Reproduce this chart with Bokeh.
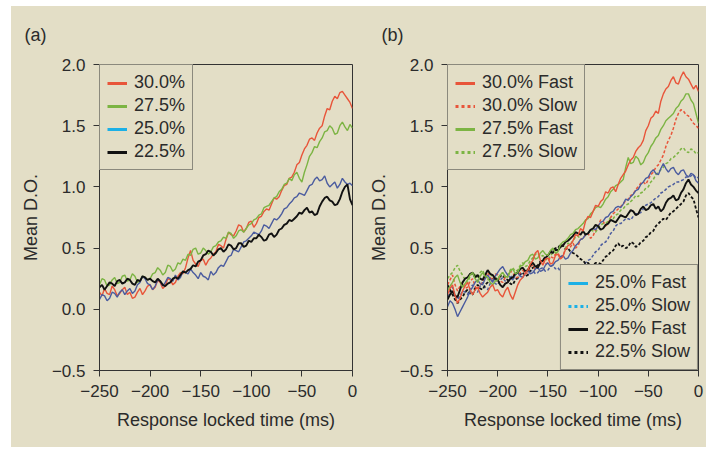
from bokeh.plotting import figure
from bokeh.layouts import row
from bokeh.models import Legend, LegendItem, FixedTicker, Range1d
from bokeh.embed import file_html
from bokeh.resources import INLINE

# ---------------- data ----------------
time_ms = [-250, -247.5, -245, -242.5, -240, -237.5, -235, -232.5, -230, -227.5,
           -225, -222.5, -220, -217.5, -215, -212.5, -210, -207.5, -205, -202.5,
           -200, -197.5, -195, -192.5, -190, -187.5, -185, -182.5, -180, -177.5,
           -175, -172.5, -170, -167.5, -165, -162.5, -160, -157.5, -155, -152.5,
           -150, -147.5, -145, -142.5, -140, -137.5, -135, -132.5, -130, -127.5,
           -125, -122.5, -120, -117.5, -115, -112.5, -110, -107.5, -105, -102.5,
           -100, -97.5, -95, -92.5, -90, -87.5, -85, -82.5, -80, -77.5,
           -75, -72.5, -70, -67.5, -65, -62.5, -60, -57.5, -55, -52.5,
           -50, -47.5, -45, -42.5, -40, -37.5, -35, -32.5, -30, -27.5,
           -25, -22.5, -20, -17.5, -15, -12.5, -10, -7.5, -5, -2.5, 0]

# panel (a)
a_300 = [0.14, 0.11, 0.17, 0.13, 0.12, 0.19, 0.16, 0.11, 0.13, 0.16,
         0.18, 0.12, 0.14, 0.09, 0.10, 0.14, 0.17, 0.12, 0.15, 0.19,
         0.20, 0.16, 0.18, 0.24, 0.22, 0.17, 0.19, 0.25, 0.24, 0.20,
         0.22, 0.27, 0.30, 0.29, 0.34, 0.42, 0.48, 0.40, 0.37, 0.35,
         0.40, 0.41, 0.36, 0.40, 0.42, 0.45, 0.47, 0.53, 0.52, 0.50,
         0.57, 0.63, 0.61, 0.60, 0.64, 0.69, 0.68, 0.63, 0.66, 0.71,
         0.72, 0.67, 0.70, 0.75, 0.76, 0.80, 0.82, 0.81, 0.86, 0.91,
         0.90, 0.92, 0.97, 1.01, 1.02, 1.07, 1.08, 1.12, 1.18, 1.20,
         1.26, 1.31, 1.34, 1.39, 1.40, 1.38, 1.44, 1.48, 1.50, 1.58,
         1.64, 1.63, 1.70, 1.74, 1.72, 1.77, 1.78, 1.75, 1.72, 1.69,
         1.64]
a_275 = [0.20, 0.25, 0.24, 0.19, 0.20, 0.24, 0.26, 0.21, 0.22, 0.27,
         0.28, 0.23, 0.24, 0.29, 0.27, 0.22, 0.23, 0.27, 0.26, 0.24,
         0.25, 0.29, 0.30, 0.34, 0.32, 0.28, 0.30, 0.36, 0.35, 0.31,
         0.33, 0.38, 0.37, 0.41, 0.40, 0.45, 0.44, 0.49, 0.50, 0.45,
         0.46, 0.50, 0.48, 0.45, 0.47, 0.51, 0.52, 0.55, 0.56, 0.59,
         0.58, 0.63, 0.62, 0.58, 0.60, 0.64, 0.65, 0.63, 0.66, 0.69,
         0.70, 0.73, 0.74, 0.77, 0.78, 0.83, 0.84, 0.85, 0.88, 0.91,
         0.92, 0.96, 0.98, 1.02, 1.03, 1.07, 1.05, 1.10, 1.12, 1.07,
         1.04, 1.12, 1.18, 1.25, 1.28, 1.33, 1.32, 1.37, 1.40, 1.45,
         1.46, 1.50, 1.48, 1.43, 1.44, 1.50, 1.53, 1.49, 1.46, 1.51,
         1.48]
a_250 = [0.08, 0.12, 0.11, 0.07, 0.09, 0.14, 0.13, 0.10, 0.14, 0.16,
         0.12, 0.15, 0.17, 0.13, 0.15, 0.20, 0.22, 0.27, 0.25, 0.21,
         0.20, 0.16, 0.19, 0.24, 0.23, 0.19, 0.22, 0.26, 0.25, 0.23,
         0.28, 0.24, 0.26, 0.31, 0.30, 0.29, 0.33, 0.30, 0.28, 0.25,
         0.30, 0.27, 0.26, 0.24, 0.31, 0.28, 0.30, 0.34, 0.36, 0.35,
         0.39, 0.43, 0.44, 0.49, 0.48, 0.47, 0.51, 0.55, 0.56, 0.58,
         0.60, 0.63, 0.62, 0.61, 0.64, 0.69, 0.68, 0.66, 0.70, 0.74,
         0.73, 0.75, 0.78, 0.82, 0.83, 0.86, 0.88, 0.91, 0.92, 0.95,
         0.94, 0.93, 0.97, 1.01, 1.02, 1.06, 1.08, 1.05, 1.06, 1.09,
         1.03, 1.00, 1.02, 1.04, 0.99, 1.02, 1.07, 1.04, 1.02, 1.03,
         1.01]
a_225 = [0.18, 0.20, 0.16, 0.19, 0.22, 0.21, 0.19, 0.23, 0.24, 0.21,
         0.22, 0.25, 0.24, 0.21, 0.20, 0.24, 0.23, 0.27, 0.26, 0.24,
         0.25, 0.23, 0.22, 0.25, 0.23, 0.20, 0.19, 0.21, 0.22, 0.25,
         0.26, 0.25, 0.28, 0.31, 0.30, 0.32, 0.33, 0.36, 0.35, 0.39,
         0.40, 0.44, 0.45, 0.48, 0.47, 0.44, 0.46, 0.49, 0.50, 0.47,
         0.49, 0.53, 0.52, 0.49, 0.50, 0.54, 0.54, 0.51, 0.52, 0.56,
         0.55, 0.58, 0.58, 0.61, 0.59, 0.56, 0.57, 0.61, 0.62, 0.59,
         0.61, 0.65, 0.66, 0.69, 0.70, 0.73, 0.72, 0.74, 0.76, 0.79,
         0.78, 0.81, 0.83, 0.79, 0.80, 0.77, 0.78, 0.84, 0.88, 0.91,
         0.92, 0.89, 0.88, 0.85, 0.86, 0.90, 0.96, 1.00, 1.02, 0.90,
         0.85]

# panel (b)
b_300_fast = [0.12, 0.17, 0.20, 0.11, 0.05, 0.09, 0.15, 0.19, 0.22, 0.16,
              0.12, 0.16, 0.18, 0.13, 0.10, 0.12, 0.14, 0.18, 0.20, 0.15,
              0.16, 0.12, 0.10, 0.15, 0.18, 0.12, 0.08, 0.14, 0.20, 0.24,
              0.26, 0.30, 0.32, 0.37, 0.40, 0.46, 0.48, 0.40, 0.36, 0.41,
              0.42, 0.37, 0.38, 0.44, 0.45, 0.41, 0.43, 0.49, 0.52, 0.53,
              0.56, 0.61, 0.60, 0.66, 0.64, 0.72, 0.76, 0.75, 0.80, 0.85,
              0.84, 0.88, 0.90, 0.96, 0.95, 0.99, 1.00, 0.96, 1.02, 1.07,
              1.10, 1.13, 1.18, 1.22, 1.24, 1.29, 1.32, 1.34, 1.38, 1.46,
              1.50, 1.56, 1.58, 1.62, 1.60, 1.70, 1.76, 1.80, 1.82, 1.87,
              1.90, 1.85, 1.84, 1.90, 1.94, 1.90, 1.88, 1.84, 1.80, 1.83,
              1.78]
b_300_slow = [0.20, 0.24, 0.28, 0.20, 0.15, 0.19, 0.22, 0.17, 0.18, 0.23,
              0.25, 0.19, 0.16, 0.20, 0.22, 0.27, 0.30, 0.26, 0.24, 0.29,
              0.28, 0.23, 0.22, 0.26, 0.27, 0.31, 0.30, 0.26, 0.26, 0.30,
              0.32, 0.29, 0.30, 0.35, 0.36, 0.32, 0.34, 0.38, 0.40, 0.37,
              0.38, 0.43, 0.42, 0.45, 0.46, 0.42, 0.44, 0.49, 0.50, 0.51,
              0.54, 0.50, 0.52, 0.57, 0.58, 0.61, 0.62, 0.58, 0.60, 0.65,
              0.68, 0.73, 0.72, 0.68, 0.70, 0.75, 0.78, 0.80, 0.82, 0.84,
              0.86, 0.89, 0.90, 0.93, 0.94, 0.98, 1.00, 1.03, 1.04, 1.02,
              1.06, 1.10, 1.12, 1.16, 1.18, 1.22, 1.26, 1.33, 1.38, 1.42,
              1.48, 1.55, 1.60, 1.63, 1.62, 1.59, 1.58, 1.55, 1.52, 1.50,
              1.48]
b_275_fast = [0.15, 0.19, 0.22, 0.26, 0.28, 0.22, 0.18, 0.21, 0.24, 0.28,
              0.30, 0.25, 0.22, 0.27, 0.30, 0.27, 0.26, 0.22, 0.20, 0.23,
              0.24, 0.28, 0.30, 0.27, 0.26, 0.31, 0.33, 0.29, 0.30, 0.35,
              0.36, 0.39, 0.40, 0.44, 0.45, 0.41, 0.42, 0.46, 0.48, 0.45,
              0.44, 0.48, 0.50, 0.46, 0.47, 0.53, 0.55, 0.56, 0.58, 0.61,
              0.62, 0.65, 0.66, 0.68, 0.70, 0.73, 0.74, 0.78, 0.80, 0.83,
              0.84, 0.83, 0.86, 0.90, 0.92, 0.96, 0.98, 1.01, 1.02, 1.04,
              1.06, 1.16, 1.24, 1.19, 1.20, 1.25, 1.23, 1.18, 1.20, 1.25,
              1.28, 1.33, 1.36, 1.40, 1.42, 1.47, 1.50, 1.54, 1.56, 1.58,
              1.60, 1.64, 1.66, 1.70, 1.72, 1.76, 1.76, 1.71, 1.68, 1.60,
              1.52]
b_275_slow = [0.25, 0.28, 0.30, 0.34, 0.36, 0.31, 0.28, 0.24, 0.22, 0.27,
              0.30, 0.28, 0.26, 0.30, 0.32, 0.27, 0.24, 0.27, 0.28, 0.26,
              0.25, 0.28, 0.30, 0.26, 0.28, 0.32, 0.34, 0.31, 0.32, 0.36,
              0.38, 0.35, 0.36, 0.40, 0.42, 0.45, 0.46, 0.43, 0.44, 0.41,
              0.40, 0.44, 0.46, 0.45, 0.48, 0.51, 0.52, 0.50, 0.54, 0.53,
              0.56, 0.59, 0.60, 0.57, 0.58, 0.61, 0.62, 0.65, 0.64, 0.63,
              0.66, 0.69, 0.70, 0.70, 0.72, 0.75, 0.74, 0.77, 0.78, 0.81,
              0.82, 0.85, 0.86, 0.88, 0.90, 0.93, 0.92, 0.95, 0.96, 0.99,
              1.00, 1.04, 1.06, 1.10, 1.12, 1.14, 1.16, 1.19, 1.20, 1.23,
              1.24, 1.26, 1.28, 1.31, 1.32, 1.29, 1.28, 1.31, 1.30, 1.27,
              1.28]
b_250_fast = [0.02, 0.07, 0.05, 0.00, -0.06, -0.02, 0.02, 0.06, 0.10, 0.15,
              0.18, 0.22, 0.24, 0.21, 0.20, 0.25, 0.28, 0.25, 0.22, 0.27,
              0.30, 0.33, 0.35, 0.31, 0.28, 0.26, 0.24, 0.28, 0.30, 0.27,
              0.26, 0.30, 0.32, 0.29, 0.30, 0.33, 0.34, 0.31, 0.32, 0.36,
              0.38, 0.35, 0.36, 0.39, 0.40, 0.43, 0.44, 0.41, 0.42, 0.46,
              0.48, 0.52, 0.54, 0.57, 0.58, 0.61, 0.62, 0.65, 0.66, 0.65,
              0.68, 0.71, 0.72, 0.75, 0.76, 0.79, 0.80, 0.83, 0.84, 0.83,
              0.86, 0.90, 0.89, 0.92, 0.94, 0.97, 0.98, 1.02, 1.04, 1.07,
              1.08, 1.12, 1.14, 1.11, 1.10, 1.15, 1.19, 1.15, 1.12, 1.15,
              1.16, 1.12, 1.10, 1.13, 1.14, 1.10, 1.08, 1.11, 1.10, 1.05,
              1.03]
b_250_slow = [0.10, 0.15, 0.18, 0.12, 0.08, 0.11, 0.15, 0.14, 0.12, 0.17,
              0.20, 0.16, 0.14, 0.19, 0.22, 0.18, 0.16, 0.21, 0.24, 0.21,
              0.20, 0.24, 0.26, 0.23, 0.22, 0.26, 0.28, 0.25, 0.25, 0.28,
              0.30, 0.27, 0.28, 0.31, 0.32, 0.29, 0.30, 0.33, 0.34, 0.31,
              0.32, 0.35, 0.36, 0.33, 0.34, 0.31, 0.30, 0.33, 0.34, 0.31,
              0.32, 0.35, 0.36, 0.33, 0.34, 0.38, 0.40, 0.41, 0.44, 0.47,
              0.48, 0.52, 0.54, 0.55, 0.58, 0.62, 0.64, 0.68, 0.70, 0.70,
              0.72, 0.74, 0.74, 0.73, 0.76, 0.78, 0.78, 0.79, 0.82, 0.85,
              0.86, 0.87, 0.89, 0.91, 0.92, 0.95, 0.96, 0.98, 1.00, 1.01,
              1.02, 1.04, 1.04, 1.05, 1.06, 1.08, 1.08, 1.09, 1.10, 1.07,
              1.08]
b_225_fast = [0.08, 0.12, 0.15, 0.11, 0.10, 0.16, 0.22, 0.25, 0.26, 0.29,
              0.30, 0.26, 0.28, 0.25, 0.24, 0.28, 0.32, 0.29, 0.28, 0.25,
              0.24, 0.20, 0.18, 0.21, 0.22, 0.25, 0.26, 0.29, 0.30, 0.33,
              0.34, 0.31, 0.32, 0.36, 0.38, 0.35, 0.34, 0.38, 0.40, 0.42,
              0.44, 0.47, 0.46, 0.49, 0.48, 0.51, 0.52, 0.55, 0.56, 0.58,
              0.60, 0.63, 0.62, 0.61, 0.64, 0.61, 0.62, 0.65, 0.66, 0.69,
              0.68, 0.65, 0.66, 0.69, 0.70, 0.73, 0.72, 0.71, 0.74, 0.77,
              0.76, 0.75, 0.78, 0.81, 0.80, 0.77, 0.78, 0.82, 0.84, 0.81,
              0.82, 0.85, 0.86, 0.82, 0.84, 0.80, 0.82, 0.87, 0.90, 0.91,
              0.93, 0.89, 0.90, 0.95, 0.98, 1.03, 1.06, 1.02, 1.00, 0.97,
              0.95]
b_225_slow = [0.20, 0.16, 0.12, 0.08, 0.05, 0.08, 0.10, 0.14, 0.16, 0.13,
              0.12, 0.17, 0.20, 0.17, 0.16, 0.20, 0.22, 0.25, 0.26, 0.23,
              0.24, 0.27, 0.28, 0.25, 0.24, 0.21, 0.20, 0.24, 0.26, 0.29,
              0.30, 0.27, 0.28, 0.32, 0.34, 0.35, 0.36, 0.39, 0.40, 0.43,
              0.44, 0.47, 0.48, 0.50, 0.50, 0.53, 0.52, 0.49, 0.50, 0.47,
              0.46, 0.45, 0.43, 0.41, 0.40, 0.37, 0.38, 0.35, 0.36, 0.38,
              0.38, 0.37, 0.40, 0.43, 0.44, 0.47, 0.48, 0.52, 0.54, 0.51,
              0.52, 0.50, 0.51, 0.55, 0.54, 0.51, 0.52, 0.55, 0.56, 0.59,
              0.60, 0.63, 0.64, 0.68, 0.70, 0.72, 0.74, 0.73, 0.76, 0.79,
              0.80, 0.82, 0.84, 0.86, 0.88, 0.93, 0.95, 0.92, 0.90, 0.82,
              0.75]

labels_a = ["30.0%", "27.5%", "25.0%", "22.5%"]
labels_b_top = ["30.0% Fast", "30.0% Slow", "27.5% Fast", "27.5% Slow"]
labels_b_bottom = ["25.0% Fast", "25.0% Slow", "22.5% Fast", "22.5% Slow"]
panel_titles = ["(a)", "(b)"]

x_ticks = [-250, -200, -150, -100, -50, 0]
x_tick_labels = ["\u2212250", "\u2212200", "\u2212150", "\u2212100", "\u221250", "0"]
y_ticks = [-0.5, 0.0, 0.5, 1.0, 1.5, 2.0]
y_tick_labels = ["\u22120.5", "0.0", "0.5", "1.0", "1.5", "2.0"]

# ---------------- style ----------------
BG = "#e3dec6"
TXT = "#2b2b2b"
RED = "#e8553a"
GREEN = "#7cb443"
BLUE = "#4b5c9f"
CYAN = "#1cb0e6"
BLACK = "#111111"
FONT = "'Liberation Sans', Arial, sans-serif"
NAN = float("nan")


def make_fig(width, left, right, title):
    p = figure(width=width, height=441, output_backend="svg", toolbar_location=None,
               x_range=Range1d(-250, 0), y_range=Range1d(-0.5, 2.0),
               min_border_left=left, min_border_right=right,
               min_border_top=58, min_border_bottom=77, title=title)
    p.background_fill_color = BG
    p.border_fill_color = BG
    p.outline_line_color = "#333333"
    p.outline_line_width = 1
    p.grid.visible = False
    p.title.align = "left"
    p.title.offset = -(left - 13)
    p.title.vertical_align = "top"
    p.title.text_baseline = "middle"
    p.title.standoff = 36
    p.title.text_font = FONT
    p.title.text_font_size = "18px"
    p.title.text_font_style = "normal"
    p.title.text_color = TXT
    p.xaxis.ticker = FixedTicker(ticks=x_ticks)
    p.yaxis.ticker = FixedTicker(ticks=y_ticks)
    p.xaxis.major_label_overrides = {t: s for t, s in zip(x_ticks, x_tick_labels)}
    p.yaxis.major_label_overrides = {t: s for t, s in zip(y_ticks, y_tick_labels)}
    for ax in (p.xaxis, p.yaxis):
        ax.axis_line_color = "#333333"
        ax.major_tick_line_color = "#333333"
        ax.major_tick_out = 6
        ax.major_tick_in = 0
        ax.minor_tick_line_color = None
        ax.major_label_text_font = FONT
        ax.major_label_text_font_size = "17px"
        ax.major_label_text_color = TXT
        ax.axis_label_text_font = FONT
        ax.axis_label_text_font_size = "18px"
        ax.axis_label_text_font_style = "normal"
        ax.axis_label_text_color = TXT
    p.xaxis.axis_label = "Response locked time (ms)"
    p.yaxis.axis_label = "Mean D.O."
    p.xaxis.major_label_standoff = 8
    p.yaxis.major_label_standoff = 8
    p.xaxis.axis_label_standoff = 10
    p.yaxis.axis_label_standoff = 8
    return p


def style_legend(lg):
    lg.margin = 0
    lg.padding = 7
    lg.spacing = 2
    lg.glyph_width = 20
    lg.glyph_height = 20
    lg.label_height = 20
    lg.label_standoff = 7
    lg.label_text_font = FONT
    lg.label_text_font_size = "18px"
    lg.label_text_color = TXT
    lg.border_line_color = "#333333"
    lg.border_line_width = 1
    lg.background_fill_color = BG
    lg.background_fill_alpha = 1.0


def legend_items(p, labels, styles):
    items = []
    for lab, (c, d) in zip(labels, styles):
        # legend proxy: a single NaN point draws nothing in the plot
        r = p.line([NAN], [NAN], line_color=c, line_width=3, line_dash=d)
        items.append(LegendItem(label=lab, renderers=[r]))
    return items


# ---------------- panel (a) ----------------
pa = make_fig(354, 88, 13, panel_titles[0])
series_a = [(a_300, RED, 1.4), (a_275, GREEN, 1.4), (a_250, BLUE, 1.4), (a_225, BLACK, 1.9)]
for ys, c, w in series_a:
    pa.line(time_ms[:len(ys)], ys, line_color=c, line_width=w)
leg_a = Legend(items=legend_items(pa, labels_a, [(RED, "solid"), (GREEN, "solid"),
                                                 (CYAN, "solid"), (BLACK, "solid")]),
               location="top_left")
style_legend(leg_a)
pa.add_layout(leg_a)

# ---------------- panel (b) ----------------
pb = make_fig(341, 79, 8, panel_titles[1])
series_b = [
    (b_250_slow, BLUE, 1.5, "3 2"), (b_225_slow, BLACK, 1.8, "3 2"),
    (b_275_slow, GREEN, 1.5, "3 2"), (b_300_slow, RED, 1.5, "3 2"),
    (b_250_fast, BLUE, 1.4, "solid"), (b_225_fast, BLACK, 1.9, "solid"),
    (b_275_fast, GREEN, 1.4, "solid"), (b_300_fast, RED, 1.4, "solid"),
]
for ys, c, w, d in series_b:
    pb.line(time_ms[:len(ys)], ys, line_color=c, line_width=w, line_dash=d)

leg_bt = Legend(items=legend_items(pb, labels_b_top, [(RED, "solid"), (RED, "3 3"),
                                                      (GREEN, "solid"), (GREEN, "3 3")]),
                location="top_left")
leg_bb = Legend(items=legend_items(pb, labels_b_bottom, [(CYAN, "solid"), (CYAN, "3 3"),
                                                         (BLACK, "solid"), (BLACK, "3 3")]),
                location="bottom_right")
style_legend(leg_bt)
style_legend(leg_bb)
pb.add_layout(leg_bt)
pb.add_layout(leg_bb)

layout = row(pa, pb, margin=(6, 0, 3, 11), spacing=0)
layout.styles = {"background-color": BG}

with open("out.html", "w") as f:
    f.write(file_html(layout, INLINE))
